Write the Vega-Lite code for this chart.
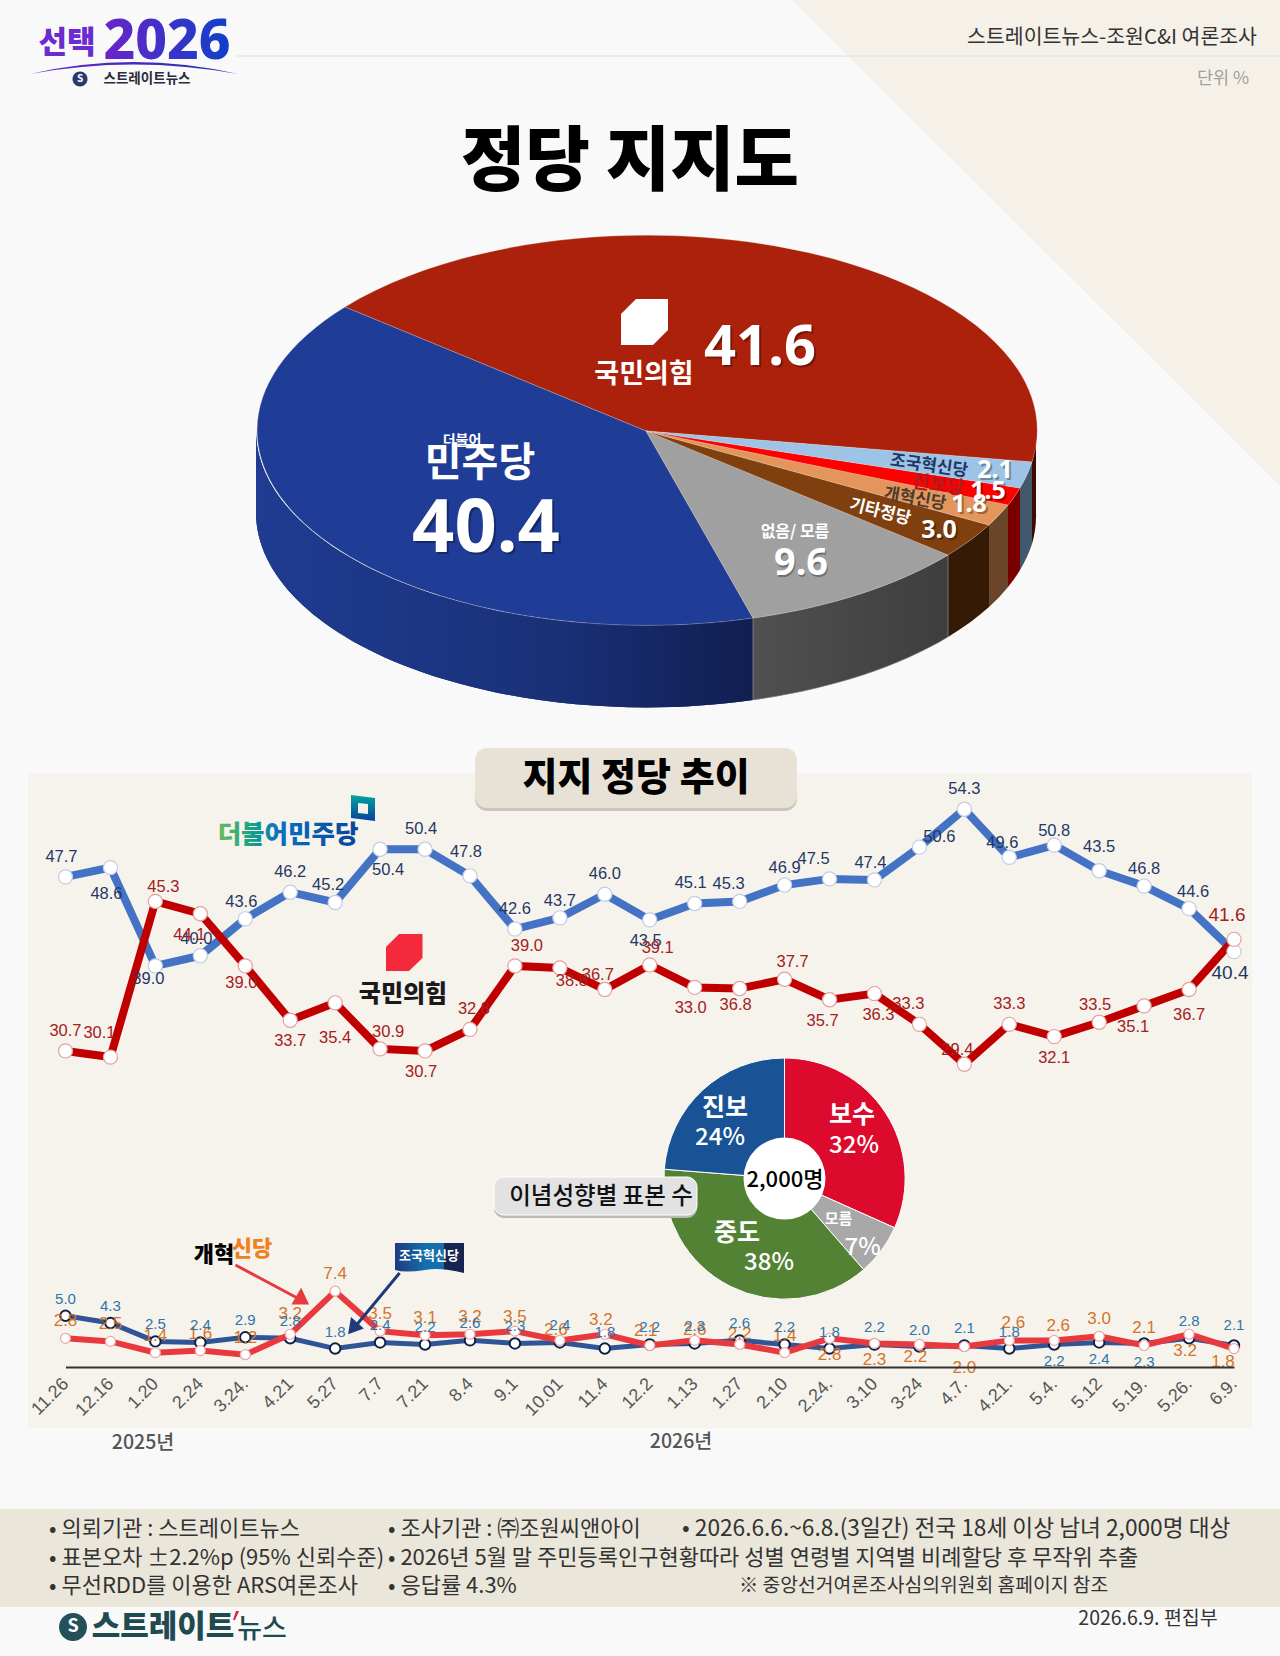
{"$schema":"https://vega.github.io/schema/vega-lite/v6.json","width":1280,"height":1656,"autosize":{"type":"fit","contains":"padding"},"padding":0,"background":"#f9f9f9","config":{"view":{"stroke":null},"text":{"font":"Noto Sans CJK KR","baseline":"middle","align":"center"},"point":{"opacity":1},"circle":{"opacity":1}},"resolve":{"scale":{"x":"independent","y":"independent","color":"independent","fill":"independent","stroke":"independent","shape":"independent","theta":"independent"}},"data":{"values":[{}]},"datasets":{"pie":[{"party":"국민의힘","name":"국민의힘","value":41.6},{"party":"더불어민주당","name":"민주당","value":40.4},{"party":"없음/ 모름","name":"없음/ 모름","value":9.6},{"party":"기타정당","name":"기타정당","value":3.0},{"party":"개혁신당","name":"개혁신당","value":1.8},{"party":"진보당","name":"진보당","value":1.5},{"party":"조국혁신당","name":"조국혁신당","value":2.1}],"ideology":[{"group":"보수","share":32,"rank":1,"label":"32%"},{"group":"모름","share":7,"rank":2,"label":"7%"},{"group":"중도","share":38,"rank":3,"label":"38%"},{"group":"진보","share":24,"rank":4,"label":"24%"}],"major":[{"date":"11.26","party":"더불어민주당","value":47.7,"label":"47.7","side":"l1","level":"a3"},{"date":"12.16","party":"더불어민주당","value":48.6,"label":"48.6","side":"l1","level":"b4"},{"date":"1.20","party":"더불어민주당","value":39.0,"label":"39.0","side":"l2","level":"b1"},{"date":"2.24","party":"더불어민주당","value":40.0,"label":"40.0","side":"l1","level":"a2"},{"date":"3.24.","party":"더불어민주당","value":43.6,"label":"43.6","side":"l1","level":"a2"},{"date":"4.21","party":"더불어민주당","value":46.2,"label":"46.2","side":"c","level":"a3"},{"date":"5.27","party":"더불어민주당","value":45.2,"label":"45.2","side":"l2","level":"a2"},{"date":"7.7","party":"더불어민주당","value":50.4,"label":"50.4","side":"r2","level":"b3"},{"date":"7.21","party":"더불어민주당","value":50.4,"label":"50.4","side":"l1","level":"a3"},{"date":"8.4","party":"더불어민주당","value":47.8,"label":"47.8","side":"l1","level":"a4"},{"date":"9.1","party":"더불어민주당","value":42.6,"label":"42.6","side":"c","level":"a3"},{"date":"10.01","party":"더불어민주당","value":43.7,"label":"43.7","side":"c","level":"a2"},{"date":"11.4","party":"더불어민주당","value":46.0,"label":"46.0","side":"c","level":"a3"},{"date":"12.2","party":"더불어민주당","value":43.5,"label":"43.5","side":"l1","level":"b3"},{"date":"1.13","party":"더불어민주당","value":45.1,"label":"45.1","side":"l1","level":"a3"},{"date":"1.27","party":"더불어민주당","value":45.3,"label":"45.3","side":"l3","level":"a2"},{"date":"2.10","party":"더불어민주당","value":46.9,"label":"46.9","side":"c","level":"a2"},{"date":"2.24.","party":"더불어민주당","value":47.5,"label":"47.5","side":"l4","level":"a3"},{"date":"3.10","party":"더불어민주당","value":47.4,"label":"47.4","side":"l1","level":"a2"},{"date":"3-24","party":"더불어민주당","value":50.6,"label":"50.6","side":"r4","level":"a0"},{"date":"4.7.","party":"더불어민주당","value":54.3,"label":"54.3","side":"c","level":"a3"},{"date":"4.21.","party":"더불어민주당","value":49.6,"label":"49.6","side":"l2","level":"a1"},{"date":"5.4.","party":"더불어민주당","value":50.8,"label":"50.8","side":"c","level":"a1"},{"date":"5.12","party":"더불어민주당","value":48.3,"label":"43.5","side":"c","level":"a4"},{"date":"5.19.","party":"더불어민주당","value":46.8,"label":"46.8","side":"c","level":"a2"},{"date":"5.26.","party":"더불어민주당","value":44.6,"label":"44.6","side":"r1","level":"a2"},{"date":"6.9.","party":"더불어민주당","value":40.4,"label":"40.4","side":"l1","level":"b3"},{"date":"11.26","party":"국민의힘","value":30.7,"label":"30.7","side":"c","level":"a3"},{"date":"12.16","party":"국민의힘","value":30.1,"label":"30.1","side":"l3","level":"a4"},{"date":"1.20","party":"국민의힘","value":45.3,"label":"45.3","side":"r2","level":"a1"},{"date":"2.24","party":"국민의힘","value":44.1,"label":"44.1","side":"l3","level":"b3"},{"date":"3.24.","party":"국민의힘","value":39.0,"label":"39.0","side":"l1","level":"b2"},{"date":"4.21","party":"국민의힘","value":33.7,"label":"33.7","side":"c","level":"b3"},{"date":"5.27","party":"국민의힘","value":35.4,"label":"35.4","side":"c","level":"b5"},{"date":"7.7","party":"국민의힘","value":30.9,"label":"30.9","side":"r2","level":"a2"},{"date":"7.21","party":"국민의힘","value":30.7,"label":"30.7","side":"l1","level":"b3"},{"date":"8.4","party":"국민의힘","value":32.8,"label":"32.8","side":"r1","level":"a3"},{"date":"9.1","party":"국민의힘","value":39.0,"label":"39.0","side":"r3","level":"a3"},{"date":"10.01","party":"국민의힘","value":38.8,"label":"38.8","side":"r3","level":"b1"},{"date":"11.4","party":"국민의힘","value":36.7,"label":"36.7","side":"l2","level":"a1"},{"date":"12.2","party":"국민의힘","value":39.1,"label":"39.1","side":"r2","level":"a2"},{"date":"1.13","party":"국민의힘","value":36.9,"label":"33.0","side":"l1","level":"b3"},{"date":"1.27","party":"국민의힘","value":36.8,"label":"36.8","side":"l1","level":"b2"},{"date":"2.10","party":"국민의힘","value":37.7,"label":"37.7","side":"r2","level":"a2"},{"date":"2.24.","party":"국민의힘","value":35.7,"label":"35.7","side":"l2","level":"b3"},{"date":"3.10","party":"국민의힘","value":36.3,"label":"36.3","side":"r1","level":"b3"},{"date":"3-24","party":"국민의힘","value":33.3,"label":"33.3","side":"l3","level":"a3"},{"date":"4.7.","party":"국민의힘","value":29.4,"label":"29.4","side":"l2","level":"a1"},{"date":"4.21.","party":"국민의힘","value":33.3,"label":"33.3","side":"c","level":"a3"},{"date":"5.4.","party":"국민의힘","value":32.1,"label":"32.1","side":"c","level":"b3"},{"date":"5.12","party":"국민의힘","value":33.5,"label":"33.5","side":"l1","level":"a2"},{"date":"5.19.","party":"국민의힘","value":35.1,"label":"35.1","side":"l3","level":"b3"},{"date":"5.26.","party":"국민의힘","value":36.7,"label":"36.7","side":"c","level":"b4"},{"date":"6.9.","party":"국민의힘","value":41.6,"label":"41.6","side":"l2","level":"a4"}],"minor":[{"date":"11.26","party":"조국혁신당","value":5.0,"side":"c","level":"a2"},{"date":"12.16","party":"조국혁신당","value":4.3,"side":"c","level":"a2"},{"date":"1.20","party":"조국혁신당","value":2.5,"side":"c","level":"a2"},{"date":"2.24","party":"조국혁신당","value":2.4,"side":"c","level":"a2"},{"date":"3.24.","party":"조국혁신당","value":2.9,"side":"c","level":"a2"},{"date":"4.21","party":"조국혁신당","value":2.8,"side":"c","level":"a2"},{"date":"5.27","party":"조국혁신당","value":1.8,"side":"c","level":"a2"},{"date":"7.7","party":"조국혁신당","value":2.4,"side":"c","level":"a2"},{"date":"7.21","party":"조국혁신당","value":2.2,"side":"c","level":"a2"},{"date":"8.4","party":"조국혁신당","value":2.6,"side":"c","level":"a2"},{"date":"9.1","party":"조국혁신당","value":2.3,"side":"c","level":"a2"},{"date":"10.01","party":"조국혁신당","value":2.4,"side":"c","level":"a2"},{"date":"11.4","party":"조국혁신당","value":1.8,"side":"c","level":"a2"},{"date":"12.2","party":"조국혁신당","value":2.2,"side":"c","level":"a2"},{"date":"1.13","party":"조국혁신당","value":2.3,"side":"c","level":"a2"},{"date":"1.27","party":"조국혁신당","value":2.6,"side":"c","level":"a2"},{"date":"2.10","party":"조국혁신당","value":2.2,"side":"c","level":"a2"},{"date":"2.24.","party":"조국혁신당","value":1.8,"side":"c","level":"a2"},{"date":"3.10","party":"조국혁신당","value":2.2,"side":"c","level":"a2"},{"date":"3-24","party":"조국혁신당","value":2.0,"side":"c","level":"a2"},{"date":"4.7.","party":"조국혁신당","value":2.1,"side":"c","level":"a2"},{"date":"4.21.","party":"조국혁신당","value":1.8,"side":"c","level":"a2"},{"date":"5.4.","party":"조국혁신당","value":2.2,"side":"c","level":"b2"},{"date":"5.12","party":"조국혁신당","value":2.4,"side":"c","level":"b2"},{"date":"5.19.","party":"조국혁신당","value":2.3,"side":"c","level":"b3"},{"date":"5.26.","party":"조국혁신당","value":2.8,"side":"c","level":"a2"},{"date":"6.9.","party":"조국혁신당","value":2.1,"side":"c","level":"a3"},{"date":"11.26","party":"개혁신당","value":2.8,"side":"c","level":"a2"},{"date":"12.16","party":"개혁신당","value":2.5,"side":"c","level":"a2"},{"date":"1.20","party":"개혁신당","value":1.4,"side":"c","level":"a2"},{"date":"2.24","party":"개혁신당","value":1.6,"side":"c","level":"a2"},{"date":"3.24.","party":"개혁신당","value":1.2,"side":"c","level":"a2"},{"date":"4.21","party":"개혁신당","value":3.2,"side":"c","level":"a3"},{"date":"5.27","party":"개혁신당","value":7.4,"side":"c","level":"a2"},{"date":"7.7","party":"개혁신당","value":3.5,"side":"c","level":"a2"},{"date":"7.21","party":"개혁신당","value":3.1,"side":"c","level":"a2"},{"date":"8.4","party":"개혁신당","value":3.2,"side":"c","level":"a2"},{"date":"9.1","party":"개혁신당","value":3.5,"side":"c","level":"a1"},{"date":"10.01","party":"개혁신당","value":2.6,"side":"l1","level":"a0"},{"date":"11.4","party":"개혁신당","value":3.2,"side":"l1","level":"a1"},{"date":"12.2","party":"개혁신당","value":2.1,"side":"l1","level":"a1"},{"date":"1.13","party":"개혁신당","value":2.6,"side":"c","level":"a0"},{"date":"1.27","party":"개혁신당","value":2.2,"side":"c","level":"a0"},{"date":"2.10","party":"개혁신당","value":1.4,"side":"c","level":"a2"},{"date":"2.24.","party":"개혁신당","value":2.8,"side":"c","level":"b2"},{"date":"3.10","party":"개혁신당","value":2.3,"side":"c","level":"b2"},{"date":"3-24","party":"개혁신당","value":2.2,"side":"l1","level":"b1"},{"date":"4.7.","party":"개혁신당","value":2.0,"side":"c","level":"b3"},{"date":"4.21.","party":"개혁신당","value":2.6,"side":"r1","level":"a2"},{"date":"5.4.","party":"개혁신당","value":2.6,"side":"r1","level":"a1"},{"date":"5.12","party":"개혁신당","value":3.0,"side":"c","level":"a2"},{"date":"5.19.","party":"개혁신당","value":2.1,"side":"c","level":"a2"},{"date":"5.26.","party":"개혁신당","value":3.2,"side":"l1","level":"b2"},{"date":"6.9.","party":"개혁신당","value":1.8,"side":"l3","level":"b1"}],"footer":[{"col":"a","line":"r1","text":"• 의뢰기관 : 스트레이트뉴스"},{"col":"b","line":"r1","text":"• 조사기관 : ㈜조원씨앤아이"},{"col":"c","line":"r1","text":"• 2026.6.6.~6.8.(3일간) 전국 18세 이상 남녀 2,000명 대상"},{"col":"a","line":"r2","text":"• 표본오차 ±2.2%p (95% 신뢰수준)"},{"col":"b","line":"r2","text":"• 2026년 5월 말 주민등록인구현황따라 성별 연령별 지역별 비례할당 후 무작위 추출"},{"col":"a","line":"r3","text":"• 무선RDD를 이용한 ARS여론조사"},{"col":"b","line":"r3","text":"• 응답률 4.3%"},{"col":"d","line":"r3","text":"※ 중앙선거여론조사심의위원회 홈페이지 참조"}]},"layer":[{"mark":{"type":"point","shape":"M792 0L1280 486V0Z","filled":true,"size":4,"x":0,"y":0,"fill":"#f5f1e8"}},{"mark":{"type":"point","shape":"M237 55.5H1280V56.5H237Z","filled":true,"size":4,"x":0,"y":0,"fill":"#dedede"}},{"mark":{"type":"point","shape":"M28 774H1252V1428H28Z","filled":true,"size":4,"x":0,"y":0,"fill":"#f6f3ed"}},{"mark":{"type":"point","shape":"M0 1509H1280V1607H0Z","filled":true,"size":4,"x":0,"y":0,"fill":"#ebe6da"}},{"data":{"name":"pie"},"mark":{"type":"point","filled":true,"size":4,"x":0,"y":0},"encoding":{"shape":{"field":"party","type":"nominal","legend":null,"scale":{"domain":["국민의힘","더불어민주당","없음/ 모름","기타정당","개혁신당","진보당","조국혁신당"],"range":["M1032 462A390 195 0 0 0 1036 431L1036 513A390 195 0 0 1 1032 544Z","M256 431A390 195 0 0 0 753 618L753 700A390 195 0 0 1 256 513Z","M753 618A390 195 0 0 0 948 555L948 637A390 195 0 0 1 753 700Z","M948 555A390 195 0 0 0 989 525L989 607A390 195 0 0 1 948 637Z","M989 525A390 195 0 0 0 1008 505L1008 587A390 195 0 0 1 989 607Z","M1008 505A390 195 0 0 0 1020 488L1020 570A390 195 0 0 1 1008 587Z","M1020 488A390 195 0 0 0 1032 462L1032 544A390 195 0 0 1 1020 570Z"]}},"color":{"field":"party","type":"nominal","legend":null,"scale":{"domain":["국민의힘","더불어민주당","없음/ 모름","기타정당","개혁신당","진보당","조국혁신당"],"range":["#3d0b04","#16286a","#484848","#351a05","#6b452a","#7a0000","#42586e"]}}}},{"data":{"name":"pie"},"transform":[{"filter":"datum.party==='더불어민주당'"}],"mark":{"type":"point","filled":true,"size":4,"x":0,"y":0,"shape":"M256 431A390 195 0 0 0 753 618L753 700A390 195 0 0 1 256 513Z","fill":{"gradient":"linear","x1":0,"y1":0,"x2":1,"y2":0,"stops":[{"offset":0,"color":"#1f3c92"},{"offset":0.6,"color":"#1a3078"},{"offset":1,"color":"#101f50"}]}}},{"data":{"name":"pie"},"transform":[{"filter":"datum.party==='없음/ 모름'"}],"mark":{"type":"point","filled":true,"size":4,"x":0,"y":0,"shape":"M753 618A390 195 0 0 0 948 555L948 637A390 195 0 0 1 753 700Z","fill":{"gradient":"linear","x1":0,"y1":0,"x2":1,"y2":0,"stops":[{"offset":0,"color":"#505050"},{"offset":1,"color":"#3e3e3e"}]},"stroke":"#bbbbbb","strokeWidth":0.5}},{"data":{"name":"pie"},"mark":{"type":"point","filled":true,"size":4,"x":0,"y":0,"stroke":"#e9d9c8","strokeWidth":0.4,"strokeOpacity":0.7},"encoding":{"shape":{"field":"party","type":"nominal","legend":null,"scale":{"domain":["국민의힘","더불어민주당","없음/ 모름","기타정당","개혁신당","진보당","조국혁신당"],"range":["M646 431L1032 462A390 195 0 0 0 345 307Z","M646 431L345 307A390 195 0 0 0 753 618Z","M646 431L753 618A390 195 0 0 0 948 555Z","M646 431L948 555A390 195 0 0 0 989 525Z","M646 431L989 525A390 195 0 0 0 1008 505Z","M646 431L1008 505A390 195 0 0 0 1020 488Z","M646 431L1020 488A390 195 0 0 0 1032 462Z"]}},"color":{"field":"party","type":"nominal","legend":null,"scale":{"domain":["국민의힘","더불어민주당","없음/ 모름","기타정당","개혁신당","진보당","조국혁신당"],"range":["#ab210b","#1f3c96","#a0a0a0","#7f3f0e","#e3955b","#fe0000","#9dc3e6"]}}}},{"mark":{"type":"point","shape":"M636 299H668V330L653 345H621V314Z","filled":true,"size":4,"x":0,"y":0,"fill":"#ffffff"}},{"data":{"name":"pie"},"mark":{"type":"text","fontWeight":700,"font":"Noto Sans","x":{"expr":"{'국민의힘':762,'더불어민주당':488,'없음/ 모름':802,'기타정당':941,'개혁신당':971,'진보당':990,'조국혁신당':997}[datum.party]"},"y":{"expr":"{'국민의힘':350,'더불어민주당':532,'없음/ 모름':566,'기타정당':532,'개혁신당':506,'진보당':493,'조국혁신당':472}[datum.party]"},"fontSize":{"expr":"{'국민의힘':56,'더불어민주당':74,'없음/ 모름':38,'기타정당':25,'개혁신당':25,'진보당':25,'조국혁신당':25}[datum.party]"},"fill":"#000000","opacity":0.3},"encoding":{"text":{"field":"value","type":"quantitative","format":".1f"}}},{"data":{"name":"pie"},"mark":{"type":"text","fontWeight":700,"font":"Noto Sans","x":{"expr":"{'국민의힘':760,'더불어민주당':486,'없음/ 모름':801,'기타정당':939,'개혁신당':969,'진보당':988,'조국혁신당':995}[datum.party]"},"y":{"expr":"{'국민의힘':348,'더불어민주당':530,'없음/ 모름':564,'기타정당':530,'개혁신당':504,'진보당':491,'조국혁신당':470}[datum.party]"},"fontSize":{"expr":"{'국민의힘':56,'더불어민주당':74,'없음/ 모름':38,'기타정당':25,'개혁신당':25,'진보당':25,'조국혁신당':25}[datum.party]"},"fill":"#ffffff"},"encoding":{"text":{"field":"value","type":"quantitative","format":".1f"}}},{"data":{"name":"pie"},"mark":{"type":"text","fontWeight":700,"x":{"expr":"{'국민의힘':644,'더불어민주당':480,'없음/ 모름':795,'기타정당':880,'개혁신당':915,'진보당':938,'조국혁신당':929}[datum.party]"},"y":{"expr":"{'국민의힘':375,'더불어민주당':464,'없음/ 모름':532,'기타정당':512,'개혁신당':499,'진보당':485,'조국혁신당':466}[datum.party]"},"fontSize":{"expr":"{'국민의힘':27,'더불어민주당':40,'없음/ 모름':16,'기타정당':17,'개혁신당':17,'진보당':19,'조국혁신당':17}[datum.party]"},"angle":{"expr":"{'국민의힘':0,'더불어민주당':0,'없음/ 모름':0,'기타정당':14,'개혁신당':10,'진보당':8,'조국혁신당':8}[datum.party]"},"fill":{"expr":"{'국민의힘':'#ffffff','더불어민주당':'#ffffff','없음/ 모름':'#ffffff','기타정당':'#ffffff','개혁신당':'#4a3a30','진보당':'#b01c1c','조국혁신당':'#1f3864'}[datum.party]"}},"encoding":{"text":{"field":"name","type":"nominal"}}},{"mark":{"type":"text","text":"더불어","x":462,"y":441,"fontSize":14,"fontWeight":700,"fill":"#ffffff"}},{"mark":{"type":"text","text":"정당 지지도","x":630,"y":164,"fontSize":70,"fontWeight":900,"fill":"#000000"}},{"mark":{"type":"point","shape":"M487 751H785A12 12 0 0 1 797 763V799A12 12 0 0 1 785 811H487A12 12 0 0 1 475 799V763A12 12 0 0 1 487 751Z","filled":true,"size":4,"x":0,"y":0,"fill":"#cbc6ba"}},{"mark":{"type":"point","shape":"M487 748H785A12 12 0 0 1 797 760V796A12 12 0 0 1 785 808H487A12 12 0 0 1 475 796V760A12 12 0 0 1 487 748Z","filled":true,"size":4,"x":0,"y":0,"fill":"#e8e2d6"}},{"mark":{"type":"text","text":"지지 정당 추이","x":636,"y":779,"fontSize":38,"fontWeight":900,"fill":"#000000"}},{"mark":{"type":"text","text":"스트레이트뉴스-조원C&I 여론조사","x":1112,"y":38,"fontSize":20.5,"fill":"#333333"}},{"mark":{"type":"text","text":"단위 %","x":1223,"y":79,"fontSize":17.5,"fill":"#a0a0a0"}},{"mark":{"type":"text","text":"선택","x":67,"y":44,"fontSize":31,"fontWeight":900,"fill":"#6a2bd1"}},{"mark":{"type":"text","text":"2026","x":167,"y":42,"fontSize":55,"fontWeight":800,"font":"Noto Sans","fill":{"gradient":"linear","x1":0,"y1":0,"x2":1,"y2":0,"stops":[{"offset":0,"color":"#6a24c8"},{"offset":1,"color":"#1040c8"}]}}},{"mark":{"type":"point","shape":"M30 74Q133 50 238 74Q133 55 30 74Z","filled":true,"size":4,"x":0,"y":0,"fill":{"gradient":"linear","x1":0,"y1":0,"x2":1,"y2":0,"stops":[{"offset":0,"color":"#6a24c8"},{"offset":1,"color":"#2030b0"}]}}},{"mark":{"type":"point","shape":"M80 71.5A7.5 7.5 0 1 1 80 86.5A7.5 7.5 0 1 1 80 71.5Z","filled":true,"size":4,"x":0,"y":0,"fill":"#2a3a70"}},{"mark":{"type":"text","text":"S","x":80,"y":79,"fontSize":10,"fontWeight":700,"fill":"#ffffff"}},{"mark":{"type":"text","text":"스트레이트뉴스","x":147,"y":79,"fontSize":13.5,"fontWeight":700,"fill":"#2b2b3a"}},{"data":{"name":"major"},"encoding":{"x":{"field":"date","type":"nominal","axis":null,"sort":["11.26","12.16","1.20","2.24","3.24.","4.21","5.27","7.7","7.21","8.4","9.1","10.01","11.4","12.2","1.13","1.27","2.10","2.24.","3.10","3-24","4.7.","4.21.","5.4.","5.12","5.19.","5.26.","6.9."],"scale":{"type":"point","padding":0,"range":[65.5,1234]}},"y":{"field":"value","type":"quantitative","axis":null,"scale":{"domain":[20,60],"range":[1160.5,750.9],"nice":false,"zero":false}}},"layer":[{"mark":{"type":"line","strokeWidth":8},"encoding":{"color":{"field":"party","type":"nominal","legend":null,"scale":{"domain":["더불어민주당","국민의힘"],"range":["#4472c4","#c00000"]}}}},{"mark":{"type":"point","shape":"circle","filled":true,"fill":"#ffffff","size":200,"strokeWidth":1.2},"encoding":{"stroke":{"field":"party","type":"nominal","legend":null,"scale":{"domain":["더불어민주당","국민의힘"],"range":["#c3cde4","#e6a0a0"]}}}},{"mark":{"type":"text","font":"Liberation Sans","fontSize":{"expr":"datum.date==='6.9.'?19:16.5"},"dx":{"expr":"{l4:-16,l3:-11,l2:-7,l1:-4,c:0,r1:4,r2:8,r3:12,r4:20}[datum.side]"},"dy":{"expr":"{a0:-10,a1:-14,a2:-17,a3:-20,a4:-24,b1:13,b2:17,b3:21,b4:26,b5:35}[datum.level]"}},"encoding":{"text":{"field":"label","type":"nominal"},"fill":{"field":"party","type":"nominal","legend":null,"scale":{"domain":["더불어민주당","국민의힘"],"range":["#1f3864","#a52020"]}}}}]},{"data":{"name":"minor"},"encoding":{"x":{"field":"date","type":"nominal","sort":["11.26","12.16","1.20","2.24","3.24.","4.21","5.27","7.7","7.21","8.4","9.1","10.01","11.4","12.2","1.13","1.27","2.10","2.24.","3.10","3-24","4.7.","4.21.","5.4.","5.12","5.19.","5.26.","6.9."],"scale":{"type":"point","padding":0,"range":[65.5,1234]},"axis":{"title":null,"offset":-289,"orient":"bottom","zindex":1,"ticks":false,"domain":true,"domainColor":"#333333","domainWidth":2,"labelAngle":-45,"labelAlign":"right","labelBaseline":"middle","labelPadding":14,"labelFontSize":18,"labelFont":"Liberation Sans","labelColor":"#555555","labelOverlap":false,"labelBound":false,"labelFlush":false,"grid":false}},"y":{"field":"value","type":"quantitative","axis":null,"scale":{"domain":[0,10],"range":[1367,1264.6],"nice":false,"zero":false}}},"layer":[{"transform":[{"filter":"datum.party==='조국혁신당'"}],"mark":{"type":"line","strokeWidth":5,"stroke":"#2f5597"}},{"transform":[{"filter":"datum.party==='조국혁신당'"}],"mark":{"type":"point","shape":"circle","filled":true,"fill":"#ffffff","stroke":"#0f1f45","size":110,"strokeWidth":2}},{"transform":[{"filter":"datum.party==='개혁신당'"}],"mark":{"type":"line","strokeWidth":6,"stroke":"#e83a3e"}},{"transform":[{"filter":"datum.party==='개혁신당'"}],"mark":{"type":"point","shape":"circle","filled":true,"fill":"#ffffff","stroke":"#eba8a8","size":100,"strokeWidth":1.2}},{"transform":[{"filter":"datum.party==='개혁신당'"}],"mark":{"type":"text","font":"Liberation Sans","fontSize":17,"fill":"#d4742a","dx":{"expr":"{l3:-11,l1:-4,c:0,r1:4}[datum.side]"},"dy":{"expr":"{a0:-10,a1:-14,a2:-17,a3:-20,b1:13,b2:17,b3:21}[datum.level]"}},"encoding":{"text":{"field":"value","type":"quantitative","format":".1f"}}},{"transform":[{"filter":"datum.party==='조국혁신당'"}],"mark":{"type":"text","font":"Liberation Sans","fontSize":15,"fill":"#2e75a8","dy":{"expr":"{a2:-17,a3:-20,b2:17,b3:19}[datum.level]"}},"encoding":{"text":{"field":"value","type":"quantitative","format":".1f"}}}]},{"mark":{"type":"text","text":"2025년","x":143,"y":1443,"fontSize":19.5,"fontWeight":500,"fill":"#555555"}},{"mark":{"type":"text","text":"2026년","x":681,"y":1442,"fontSize":19.5,"fontWeight":500,"fill":"#555555"}},{"mark":{"type":"point","shape":"M386 947L399 934H422.5V958L409 971H386Z","filled":true,"size":4,"x":0,"y":0,"fill":"#f42a3c"}},{"mark":{"type":"text","text":"국민의힘","x":403,"y":995,"fontSize":24,"fontWeight":900,"fill":"#1a1a1a"}},{"mark":{"type":"point","shape":"M351 795L375 798V821L351 818ZM358 803V813L368 814V804Z","filled":true,"size":4,"x":0,"y":0,"fill":{"gradient":"linear","x1":0,"y1":0,"x2":0,"y2":1,"stops":[{"offset":0,"color":"#00a5a0"},{"offset":1,"color":"#0a3f9f"}]}}},{"mark":{"type":"text","text":"더불어민주당","x":288,"y":835,"fontSize":25.5,"fontWeight":900,"fill":{"gradient":"linear","x1":0,"y1":0,"x2":1,"y2":0,"stops":[{"offset":0,"color":"#6cbb5a"},{"offset":0.25,"color":"#14a088"},{"offset":0.45,"color":"#0a6fc0"},{"offset":1,"color":"#0a4598"}]}}},{"mark":{"type":"text","text":"개혁","x":214,"y":1255,"fontSize":22,"fontWeight":900,"fill":"#000000"}},{"mark":{"type":"text","text":"신당","x":252,"y":1249,"fontSize":22,"fontWeight":900,"fill":"#f08020"}},{"mark":{"type":"point","shape":"M235.5 1265L301 1300M306.7 1303L294 1303L301 1291Z","filled":true,"size":4,"x":0,"y":0,"fill":"#e83a3e","stroke":"#e83a3e","strokeWidth":3}},{"mark":{"type":"point","shape":"M399.6 1273L354 1328M350 1332L352 1320L361 1328Z","filled":true,"size":4,"x":0,"y":0,"fill":"#1f3a7a","stroke":"#1f3a7a","strokeWidth":3}},{"mark":{"type":"point","shape":"M395 1243H464V1273Q440 1267 425 1270Q405 1273 395 1270Z","filled":true,"size":4,"x":0,"y":0,"fill":{"gradient":"linear","x1":0,"y1":0,"x2":1,"y2":0,"stops":[{"offset":0,"color":"#1f3a80"},{"offset":0.45,"color":"#156fae"},{"offset":0.7,"color":"#156fae"},{"offset":0.72,"color":"#14254f"},{"offset":1,"color":"#14254f"}]}}},{"mark":{"type":"text","text":"조국혁신당","x":429,"y":1256,"fontSize":13,"fontWeight":700,"fill":"#ffffff"}},{"data":{"name":"ideology"},"mark":{"type":"arc","x":784.5,"y":1178.6,"outerRadius":120.6,"innerRadius":0,"stroke":"#ffffff","strokeWidth":1},"encoding":{"theta":{"field":"share","type":"quantitative","stack":true},"order":{"field":"rank","type":"quantitative"},"color":{"field":"group","type":"nominal","legend":null,"scale":{"domain":["보수","모름","중도","진보"],"range":["#dc0a2d","#a8a8a8","#548235","#1a5296"]}}}},{"mark":{"type":"circle","x":784.5,"y":1178.6,"size":6724,"fill":"#ffffff"}},{"data":{"name":"ideology"},"mark":{"type":"text","fontSize":{"expr":"datum.group==='모름'?15:25"},"fontWeight":700,"fill":"#ffffff","x":{"expr":"{'보수':852,'모름':838.5,'중도':737,'진보':725}[datum.group]"},"y":{"expr":"{'보수':1115,'모름':1219,'중도':1233,'진보':1108}[datum.group]"}},"encoding":{"text":{"field":"group","type":"nominal"}}},{"data":{"name":"ideology"},"mark":{"type":"text","fontSize":24,"fontWeight":500,"fill":"#ffffff","x":{"expr":"{'보수':854,'모름':862.7,'중도':769,'진보':720}[datum.group]"},"y":{"expr":"{'보수':1146,'모름':1248,'중도':1263,'진보':1138}[datum.group]"}},"encoding":{"text":{"field":"label","type":"nominal"}}},{"mark":{"type":"text","text":"2,000명","x":785,"y":1180,"fontSize":22,"fontWeight":500,"fill":"#000000"}},{"mark":{"type":"point","shape":"M504 1180H687A10 10 0 0 1 697 1190V1208A10 10 0 0 1 687 1218H504A10 10 0 0 1 494 1208V1190A10 10 0 0 1 504 1180Z","filled":true,"size":4,"x":0,"y":0,"fill":"#b9b9b9"}},{"mark":{"type":"point","shape":"M504 1177H687A10 10 0 0 1 697 1187V1205A10 10 0 0 1 687 1215H504A10 10 0 0 1 494 1205V1187A10 10 0 0 1 504 1177Z","filled":true,"size":4,"x":0,"y":0,"fill":"#e2e2e2","stroke":"#ffffff","strokeWidth":1}},{"mark":{"type":"text","text":"이념성향별 표본 수","x":601,"y":1197,"fontSize":23.5,"fontWeight":500,"fill":"#111111"}},{"data":{"name":"footer"},"mark":{"type":"text","align":"left","fontSize":{"expr":"{a:22,b:22,c:22.7,d:19.3}[datum.col]"},"fill":"#333333","x":{"expr":"{a:49,b:388,c:682,d:739}[datum.col]"},"y":{"expr":"{r1:1529,r2:1558,r3:1586}[datum.line]"}},"encoding":{"text":{"field":"text","type":"nominal"}}},{"mark":{"type":"point","shape":"M73 1613A14 14 0 1 1 73 1641A14 14 0 1 1 73 1613Z","filled":true,"size":4,"x":0,"y":0,"fill":"#24505a"}},{"mark":{"type":"text","text":"S","x":73,"y":1627,"fontSize":18,"fontWeight":700,"fill":"#ffffff"}},{"mark":{"type":"text","text":"스트레이트","x":163,"y":1628,"fontSize":31,"fontWeight":900,"fill":"#1f4a50"}},{"mark":{"type":"text","text":"뉴스","x":262,"y":1630,"fontSize":27,"fontWeight":500,"fill":"#1f4a50"}},{"mark":{"type":"point","shape":"M233 1620L236 1611H239L235 1620Z","filled":true,"size":4,"x":0,"y":0,"fill":"#d8203a"}},{"mark":{"type":"text","text":"2026.6.9.  편집부","x":1148,"y":1619,"fontSize":19.5,"fill":"#333333"}}]}
